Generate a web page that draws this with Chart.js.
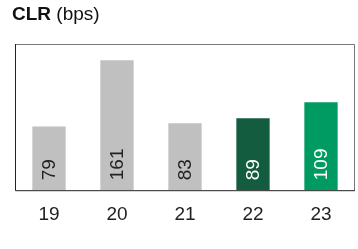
<!DOCTYPE html>
<html lang="en">
<head>
    <meta charset="UTF-8">
    <title>CLR (bps)</title>
    <script src="https://cdn.jsdelivr.net/npm/chart.js"></script>
    <style>
        body { margin: 0; background: #fff; }
        .wrap { position: relative; width: 358px; height: 249px; }
        .title { position: absolute; left: 12px; top: 3px; font-family: "Liberation Sans", Arial, sans-serif; font-size: 19px; color: #111; }
        .title b { font-weight: bold; }
        canvas { position: absolute; left: 0; top: 0; }
    </style>
</head>
<body>
    <div class="wrap">
        <canvas id="clrChart" width="358" height="249"></canvas>
        <div class="title"><b>CLR</b> (bps)</div>
    </div>

    <script>
        // data
        const years = ["19", "20", "21", "22", "23"];
        const clrValues = [79, 161, 83, 89, 109];
        const barColors = ["#c0c0c0", "#c0c0c0", "#c0c0c0", "#145c3f", "#009a63"];
        const labelColors = ["#222", "#222", "#222", "#fff", "#fff"];

        // box around the plot area
        const frame = {
            id: "frame",
            afterDraw(chart) {
                const a = chart.chartArea, c = chart.ctx;
                c.save();
                c.lineWidth = 1;
                c.strokeStyle = "#777";
                c.beginPath();
                c.moveTo(a.left + 0.5, a.top + 0.5);
                c.lineTo(a.right - 0.5, a.top + 0.5);
                c.lineTo(a.right - 0.5, a.bottom);
                c.stroke();
                c.strokeStyle = "#222";
                c.beginPath();
                c.moveTo(a.left + 0.5, a.top);
                c.lineTo(a.left + 0.5, a.bottom + 0.5);
                c.lineTo(a.right, a.bottom + 0.5);
                c.stroke();
                c.restore();
            }
        };

        // rotated value labels inside the bars
        const barLabels = {
            id: "barLabels",
            afterDatasetsDraw(chart) {
                const c = chart.ctx;
                chart.getDatasetMeta(0).data.forEach((bar, i) => {
                    c.save();
                    c.translate(bar.x, bar.base - 10);
                    c.rotate(-Math.PI / 2);
                    c.font = "19px 'Liberation Sans', Arial, sans-serif";
                    c.fillStyle = labelColors[i];
                    c.textAlign = "left";
                    c.textBaseline = "middle";
                    c.fillText(String(clrValues[i]), 0, 1);
                    c.restore();
                });
            }
        };

        new Chart(document.getElementById("clrChart"), {
            type: "bar",
            data: {
                labels: years,
                datasets: [{
                    data: clrValues,
                    backgroundColor: barColors,
                    barPercentage: 0.49,
                    categoryPercentage: 1
                }]
            },
            options: {
                responsive: false,
                animation: false,
                layout: { padding: { left: 15, right: 3, top: 44, bottom: 18 } },
                plugins: { legend: { display: false }, tooltip: { enabled: false } },
                scales: {
                    x: {
                        grid: { display: false },
                        border: { display: false },
                        ticks: {
                            color: "#222",
                            padding: 5,
                            font: { family: "'Liberation Sans', Arial, sans-serif", size: 19 }
                        }
                    },
                    y: { display: false, min: 0, max: 181 }
                }
            },
            plugins: [frame, barLabels]
        });
    </script>
</body>
</html>
